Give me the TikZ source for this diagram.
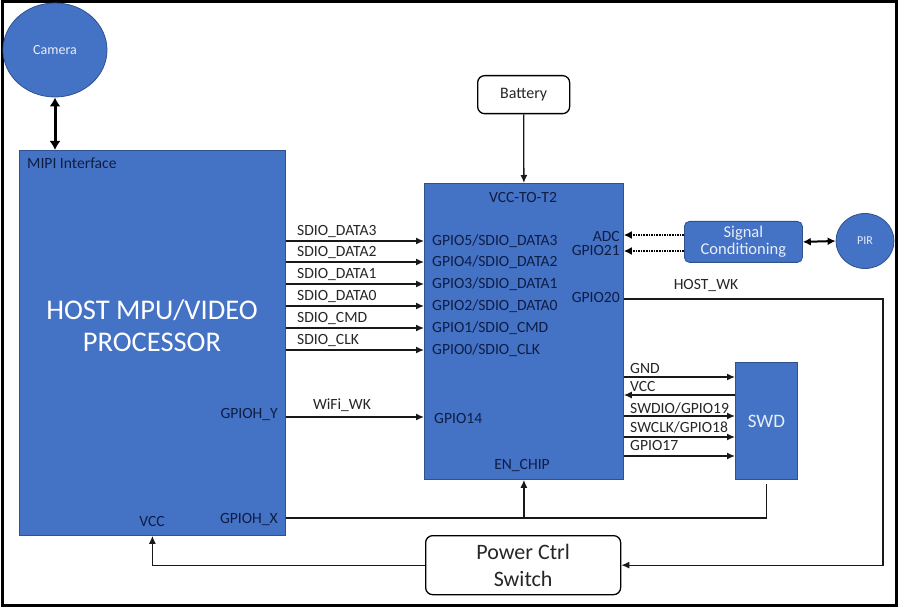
\documentclass[tikz,border=0pt]{standalone}
\usepackage{fontspec}
\setmainfont{Carlito}
\usetikzlibrary{arrows.meta,shapes.geometric}
\definecolor{blu}{HTML}{4472C4}
\definecolor{bord}{HTML}{2F528F}
\definecolor{navy}{HTML}{0F1D45}
\definecolor{lab}{HTML}{262626}
\definecolor{lite}{HTML}{E8EEF8}
\begin{document}
\begin{tikzpicture}[x=1pt,y=-1pt,
  blk/.style={draw=bord,fill=blu,line width=0.8pt,inner sep=0pt},
  rbox/.style={draw=black,fill=white,rounded corners=7pt,line width=1.3pt,inner sep=0pt},
  sm/.style={font=\fontsize{15.6}{17}\selectfont,inner sep=0pt},
  lbl/.style={sm,text=lab},
  pin/.style={sm,text=navy},
  wire/.style={line width=1.3pt,draw=black!90},
  arr/.style={wire,-{Latex[length=8pt,width=7pt]}},
  darr/.style={line width=1.6pt,densely dotted,-{Latex[length=8pt,width=8pt]}},
  biarr/.style={{Latex[length=8pt,width=8pt]}-{Latex[length=8pt,width=8pt]}},
]
\useasboundingbox (0,0) rectangle (898,607);
\draw[line width=3pt] (2,2) rectangle (896,605);

% blocks
\node[blk,ellipse,minimum width=104pt,minimum height=94pt,text=lite,font=\fontsize{14}{16}\selectfont] (cam) at (55,50) {Camera};
\node[blk,anchor=north west,minimum width=266pt,minimum height=385pt] (host) at (19,150) {};
\node[blk,anchor=north west,minimum width=199pt,minimum height=296pt] (chip) at (424,183) {};
\node[rbox,anchor=north west,minimum width=92pt,minimum height=38pt,font=\fontsize{16}{18}\selectfont,text=lab] (bat) at (477,75) {Battery};
\node[blk,rounded corners=5pt,anchor=north west,minimum width=118pt,minimum height=41pt,text=lite,align=center,font=\fontsize{16.5}{17}\selectfont] (sc) at (684,221) {Signal\\Conditioning};
\node[blk,ellipse,minimum width=58pt,minimum height=55pt,text=lite,font=\fontsize{12}{14}\selectfont] (pir) at (865,241) {PIR};
\node[blk,anchor=north west,minimum width=62pt,minimum height=117pt,text=lite,font=\fontsize{19}{21}\selectfont] (swd) at (735,362) {SWD};
\node[rbox,anchor=north west,minimum width=195pt,minimum height=59pt,align=center,text=lab,font=\fontsize{22}{27}\selectfont] (pcs) at (425,535) {Power Ctrl\\Switch};

% host texts
\node[font=\fontsize{28.5}{32}\selectfont,text=white,align=center,inner sep=0pt] (hosttxt) at (152,326) {HOST MPU/VIDEO\\PROCESSOR};
\node[pin,anchor=west] (mipi) at (27,163) {MIPI Interface};
\node[pin,anchor=east] (ghy) at (278,414) {GPIOH\_Y};
\node[pin,anchor=east] (ghx) at (278,519) {GPIOH\_X};
\node[pin] (hvcc) at (152,521) {VCC};

% chip texts
\node[pin] (vcct2) at (523,197) {VCC-TO-T2};
\node[pin,anchor=west] (p5) at (432,241) {GPIO5/SDIO\_DATA3};
\node[pin,anchor=west] (p4) at (432,262) {GPIO4/SDIO\_DATA2};
\node[pin,anchor=west] (p3) at (432,284) {GPIO3/SDIO\_DATA1};
\node[pin,anchor=west] (p2) at (432,306) {GPIO2/SDIO\_DATA0};
\node[pin,anchor=west] (p1) at (432,328) {GPIO1/SDIO\_CMD};
\node[pin,anchor=west] (p0) at (432,350) {GPIO0/SDIO\_CLK};
\node[pin,anchor=east] (adc) at (620,236) {ADC};
\node[pin,anchor=east] (g21) at (620,250) {GPIO21};
\node[pin,anchor=east] (g20) at (620,297) {GPIO20};
\node[pin,anchor=west] (g14) at (434,418) {GPIO14};
\node[pin] (en) at (522,465) {EN\_CHIP};

% SDIO bus
\foreach \yy/\t in {241/SDIO\_DATA3,262/SDIO\_DATA2,284/SDIO\_DATA1,306/SDIO\_DATA0,328/SDIO\_CMD,350/SDIO\_CLK}{
  \draw[arr] (host.east |- 0,\yy) -- (chip.west |- 0,\yy);
  \node[lbl,anchor=west] at (297,\yy-10) {\t};
}

% WiFi wake
\draw[arr] (host.east |- 0,417) -- (chip.west |- 0,417);
\node[lbl] (wifi) at (342,405) {WiFi\_WK};

% camera
\draw[line width=3pt,{Latex[length=9pt,width=11pt]}-{Latex[length=9pt,width=11pt]}] (cam.south) -- (cam.south |- host.north);

% battery
\draw[arr] (bat.south) -- (chip.north);

% signal conditioning
\draw[darr] (sc.west |- 0,235) -- (chip.east |- 0,235);
\draw[darr] (sc.west |- 0,251) -- (chip.east |- 0,251);
\draw[line width=2pt,biarr] (sc.east) -- (pir.west);

% host wake
\node[lbl] (hwk) at (706,285) {HOST\_WK};
\coordinate (hk) at (883,299);
\draw[arr] (chip.east |- hk) -- (hk) |- (pcs.east);

% SWD
\draw[arr] (chip.east |- 0,377) -- (swd.west |- 0,377);
\draw[arr] (swd.west |- 0,395) -- (chip.east |- 0,395);
\draw[arr] (chip.east |- 0,416) -- (swd.west |- 0,416);
\draw[arr] (chip.east |- 0,437) -- (swd.west |- 0,437);
\draw[arr] (chip.east |- 0,456) -- (swd.west |- 0,456);
\node[lbl,anchor=west] at (630,368) {GND};
\node[lbl,anchor=west] at (630,386) {VCC};
\node[lbl,anchor=west] at (630,408) {SWDIO/GPIO19};
\node[lbl,anchor=west] at (630,427) {SWCLK/GPIO18};
\node[lbl,anchor=west] at (630,445) {GPIO17};

% GPIOH_X
\coordinate (gx) at (767,518);
\draw[wire,shorten >=4pt] (host.east |- gx) -| (swd.south);
\draw[arr] (chip.south |- gx) -- (chip.south);

% power
\draw[arr] (pcs.west) -| (host.south);
\end{tikzpicture}
\end{document}
